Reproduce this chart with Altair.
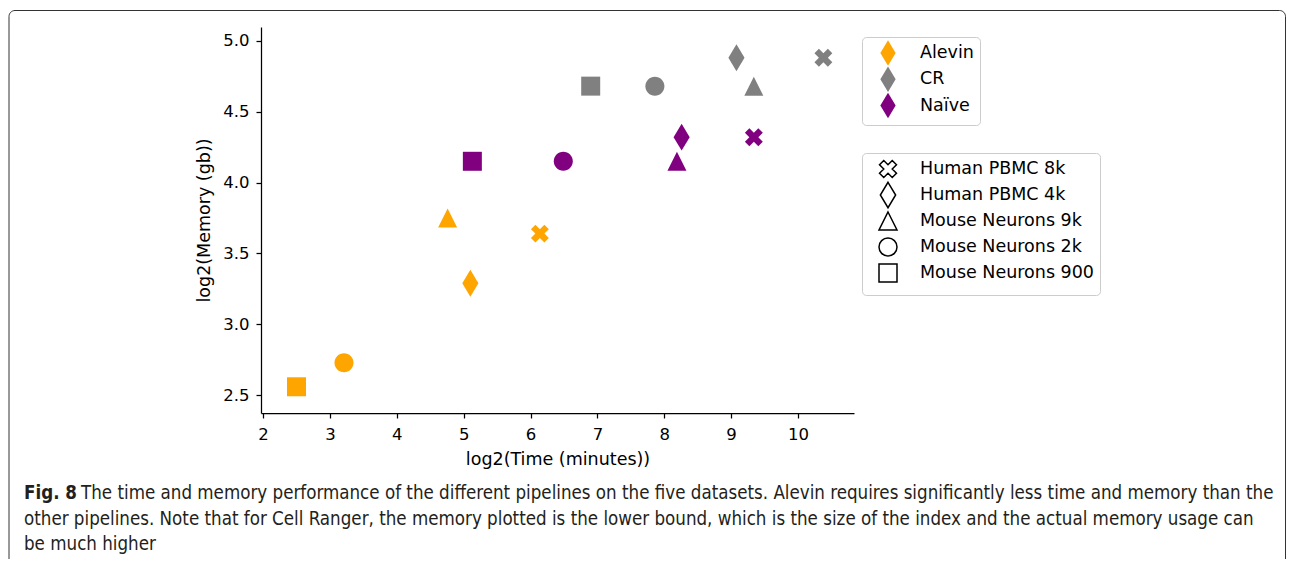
import altair as alt
import pandas as pd

# ---- data ----
pipeline_names = ["Alevin", "CR", "Naïve"]
pipeline_colors = ["orange", "gray", "purple"]
dataset_names = ["Human PBMC 8k", "Human PBMC 4k", "Mouse Neurons 9k",
                 "Mouse Neurons 2k", "Mouse Neurons 900"]

pipelines = ["Alevin"] * 5 + ["CR"] * 5 + ["Naïve"] * 5
datasets = dataset_names * 3
log2_time = [6.14, 5.10, 4.76, 3.21, 2.50,
             10.38, 9.08, 9.34, 7.86, 6.90,
             9.34, 8.26, 8.19, 6.49, 5.13]
log2_mem = [3.64, 3.29, 3.75, 2.73, 2.56,
            4.88, 4.88, 4.68, 4.68, 4.68,
            4.32, 4.32, 4.15, 4.15, 4.15]

x_ticks = [2, 3, 4, 5, 6, 7, 8, 9, 10]
y_ticks = [2.5, 3.0, 3.5, 4.0, 4.5, 5.0]

caption_bold = "Fig. 8"
caption_line1 = ("The time and memory performance of the different pipelines on the five datasets. "
                 "Alevin requires significantly less time and memory than the")
caption_line2 = ("other pipelines. Note that for Cell Ranger, the memory plotted is the lower bound, "
                 "which is the size of the index and the actual memory usage can")
caption_line3 = "be much higher"

df = pd.DataFrame({"pipeline": pipelines, "dataset": datasets,
                   "time": log2_time, "mem": log2_mem})
one = pd.DataFrame({"k": [0]})

# matplotlib-like marker shapes (X, thin diamond, triangle, circle, square);
# the trailing move-tos give every symbol the same vertical extent for legend layout
PADB = "M0,-1.414M0,1.414"
X_PATH = ("M0.471,-0.943L0,-0.471L-0.471,-0.943L-0.943,-0.471L-0.471,0L-0.943,0.471"
          "L-0.471,0.943L0,0.471L0.471,0.943L0.943,0.471L0.471,0L0.943,-0.471Z" + PADB)
DIAMOND_PATH = "M0,-1.414L0.849,0L0,1.414L-0.849,0Z"
TRI_PATH = "M0,-1L1,1L-1,1Z" + PADB
CIRCLE_PATH = "M1,0A1,1 0 1,1 -1,0A1,1 0 1,1 1,0Z" + PADB
SQUARE_PATH = "M-1,-1L1,-1L1,1L-1,1Z" + PADB
shape_range = [X_PATH, DIAMOND_PATH, TRI_PATH, CIRCLE_PATH, SQUARE_PATH]

FONT = "DejaVu Sans"
CAP_FONT = "DejaVu Sans Condensed"
CAP_SIZE = 18.6
CAP_COLOR = "#231f20"

legend_common = dict(title=None, orient="none", legendX=601, symbolSize=324,
                     labelFontSize=17.5, labelFont=FONT, labelColor="black",
                     labelLimit=400, padding=6, symbolOffset=10, labelOffset=22,
                     strokeColor="#cccccc", fillColor="white", cornerRadius=4)

points = alt.Chart(df).mark_point(filled=True, opacity=1, size=361).encode(
    x=alt.X("time:Q",
            scale=alt.Scale(domain=[1.969, 10.838], nice=False, zero=False),
            axis=alt.Axis(values=x_ticks, format="d", title="log2(Time (minutes))",
                          labelPadding=8, titlePadding=8)),
    y=alt.Y("mem:Q",
            scale=alt.Scale(domain=[2.375, 5.097], nice=False, zero=False),
            axis=alt.Axis(values=y_ticks, format=".1f", title="log2(Memory (gb))",
                          labelPadding=7, titlePadding=9)),
    color=alt.Color("pipeline:N",
                    scale=alt.Scale(domain=pipeline_names, range=pipeline_colors),
                    legend=alt.Legend(legendY=10, symbolType=DIAMOND_PATH, rowPadding=0.3,
                                      **legend_common)),
    shape=alt.Shape("dataset:N",
                    scale=alt.Scale(domain=dataset_names, range=shape_range),
                    legend=alt.Legend(legendY=126, symbolFillColor="transparent",
                                      symbolStrokeColor="black", symbolStrokeWidth=1.5,
                                      rowPadding=-6.4, **legend_common)),
)

border = alt.Chart(one).mark_rect(filled=False, stroke="#333333", strokeWidth=1,
                                  cornerRadius=6).encode(
    x=alt.value(-252), x2=alt.value(1024.5), y=alt.value(-16.5), y2=alt.value(700))

cap_b = alt.Chart(one).mark_text(align="left", baseline="alphabetic", font=CAP_FONT,
                                 fontSize=CAP_SIZE, fontWeight="bold", color=CAP_COLOR).encode(
    x=alt.value(-237), y=alt.value(472), text=alt.value(caption_bold))
cap1 = alt.Chart(one).mark_text(align="left", baseline="alphabetic", font=CAP_FONT,
                                fontSize=CAP_SIZE, color=CAP_COLOR).encode(
    x=alt.value(-180), y=alt.value(472), text=alt.value(caption_line1))
cap2 = alt.Chart(one).mark_text(align="left", baseline="alphabetic", font=CAP_FONT,
                                fontSize=CAP_SIZE, color=CAP_COLOR).encode(
    x=alt.value(-237), y=alt.value(497.5), text=alt.value(caption_line2))
cap3 = alt.Chart(one).mark_text(align="left", baseline="alphabetic", font=CAP_FONT,
                                fontSize=CAP_SIZE, color=CAP_COLOR).encode(
    x=alt.value(-237), y=alt.value(523), text=alt.value(caption_line3))

chart = alt.layer(border, points, cap_b, cap1, cap2, cap3).properties(
    width=593, height=386, background="white",
    padding={"left": 253, "top": 19, "right": 432, "bottom": 146},
    autosize=alt.AutoSizeParams(type="none"),
).configure_view(stroke="transparent").configure_axis(
    labelFont=FONT, titleFont=FONT, labelFontSize=16.5, titleFontSize=17.5,
    titleFontWeight="normal", labelColor="black", titleColor="black",
    domainColor="black", tickColor="black", domainWidth=1.25, tickWidth=1.25,
    tickSize=5, grid=False,
)

chart.save("out.html", embed_options={"renderer": "svg", "actions": False})
